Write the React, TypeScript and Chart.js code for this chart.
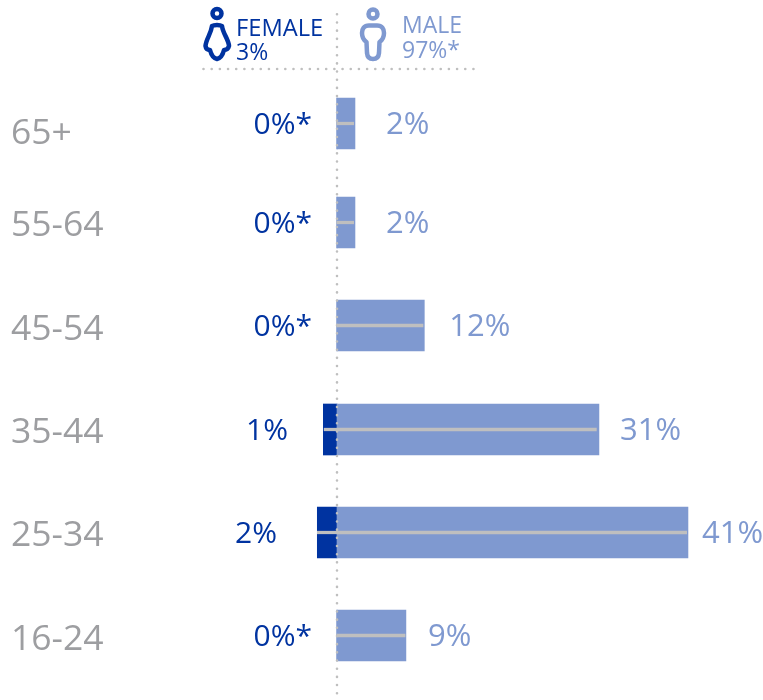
import React, { useEffect, useRef } from "react";
import { Chart, registerables } from "chart.js";

Chart.register(...registerables);

const ageGroups = ["65+", "55-64", "45-54", "35-44", "25-34", "16-24"];
const rowPosition = [0.0388, 1, 2, 3.0097, 4.0097, 5.0097];
const ageTickPosition = [0.142, 1.029, 2.039, 3.039, 4.039, 5.049];
const maleShare = [2.1, 2.1, 10.2, 30.6, 41, 8.05];
const femaleShare = [0, 0, 0, -1.6, -2.3, 0];
const maleMarker = [1.95, 1.95, 10.05, 30.3, 40.85, 7.95];
const femaleMarker = [0, 0, 0, -1.5, -2.3, 0];
const maleLabels = ["2%", "2%", "12%", "31%", "41%", "9%"];
const femaleLabels = ["0%*", "0%*", "0%*", "1%", "2%", "0%*"];

const pairs = (xs: number[]) => xs.map((x, i) => ({ x, y: rowPosition[i] }));

const DARK = "#0033a0";
const LIGHT = "#7f99d0";
const GREY = "#9d9ea1";
const LINE = "#bfbfbf";
const FAMILY = '"Open Sans", sans-serif';

const maleLabelGap = [31, 31, 25, 21, 14, 22];
const femaleLabelRight = [312, 312, 312, 288, 277, 312];

const dotted = (ctx: CanvasRenderingContext2D, x1: number, y1: number, x2: number, y2: number) => {
  ctx.save();
  ctx.strokeStyle = LINE;
  ctx.lineWidth = 2.6;
  ctx.lineCap = "round";
  ctx.setLineDash([0.01, 8.17]);
  ctx.beginPath();
  ctx.moveTo(x1, y1);
  ctx.lineTo(x2, y2);
  ctx.stroke();
  ctx.restore();
};

const overlay = {
  id: "overlay",
  afterDatasetsDraw(chart: any) {
    const { ctx, scales } = chart;
    const x = scales.x;
    const y = scales.y;
    const zero = x.getPixelForValue(0);

    dotted(ctx, zero, 14.3, zero, 700);
    dotted(ctx, 203.5, 69, 474, 69);

    ctx.save();
    ctx.textBaseline = "middle";
    ageGroups.forEach((_, i) => {
      const cy = y.getPixelForValue(rowPosition[i]) + 1.5;
      ctx.font = `30px ${FAMILY}`;
      ctx.fillStyle = DARK;
      ctx.textAlign = "right";
      ctx.fillText(femaleLabels[i], femaleLabelRight[i], cy);
      ctx.font = `31px ${FAMILY}`;
      ctx.fillStyle = LIGHT;
      ctx.textAlign = "left";
      ctx.fillText(maleLabels[i], x.getPixelForValue(maleShare[i]) + maleLabelGap[i], cy);
    });

    ctx.textAlign = "left";
    ctx.fillStyle = DARK;
    ctx.font = `23.7px ${FAMILY}`;
    ctx.fillText("FEMALE", 236, 29);
    ctx.font = `23px ${FAMILY}`;
    ctx.fillText("3%", 236, 53);
    ctx.fillStyle = LIGHT;
    ctx.fillText("MALE", 402, 26);
    ctx.fillText("97%*", 402, 51.5);

    ctx.lineJoin = "round";
    ctx.lineCap = "round";
    ctx.lineWidth = 4.5;
    ctx.strokeStyle = DARK;
    ctx.beginPath();
    ctx.arc(217, 13.5, 4.5, 0, Math.PI * 2);
    ctx.stroke();
    ctx.beginPath();
    ctx.moveTo(212, 26);
    ctx.bezierCurveTo(214, 24.5, 220, 24.5, 222, 26);
    ctx.bezierCurveTo(223, 34, 228.5, 39, 229, 46);
    ctx.quadraticCurveTo(228, 50, 224, 50);
    ctx.quadraticCurveTo(222, 58, 217, 59);
    ctx.quadraticCurveTo(212, 58, 210, 50);
    ctx.quadraticCurveTo(206, 50, 205.5, 46);
    ctx.bezierCurveTo(206, 39, 211, 34, 212, 26);
    ctx.stroke();

    ctx.strokeStyle = LIGHT;
    ctx.beginPath();
    ctx.arc(373, 14, 4.5, 0, Math.PI * 2);
    ctx.stroke();
    ctx.beginPath();
    ctx.moveTo(369, 25.5);
    ctx.lineTo(377, 25.5);
    ctx.bezierCurveTo(382, 25.5, 384, 29, 384, 33);
    ctx.quadraticCurveTo(384, 39, 379.5, 42);
    ctx.lineTo(379, 53);
    ctx.quadraticCurveTo(378.5, 59, 373, 59);
    ctx.quadraticCurveTo(367.5, 59, 367, 53);
    ctx.lineTo(366.5, 42);
    ctx.quadraticCurveTo(362, 39, 362, 33);
    ctx.bezierCurveTo(362, 29, 364, 25.5, 369, 25.5);
    ctx.stroke();
    ctx.restore();
  },
};

export default function App() {
  const ref = useRef<HTMLCanvasElement>(null);

  useEffect(() => {
    document.body.style.margin = "0";
    const chart = new Chart(ref.current!, {
      type: "bar",
      data: {
        datasets: [
          { data: pairs(maleMarker), backgroundColor: LINE, barThickness: 2.6, order: 0 },
          { data: pairs(femaleMarker), backgroundColor: LINE, barThickness: 2.6, order: 0 },
          { data: pairs(maleShare), backgroundColor: LIGHT, barThickness: 51, order: 1 },
          { data: pairs(femaleShare), backgroundColor: DARK, barThickness: 51, order: 1 },
        ],
      },
      options: {
        indexAxis: "y",
        responsive: false,
        animation: false,
        events: [],
        layout: { padding: { left: 11, right: 0, top: 68, bottom: 14 } },
        plugins: { legend: { display: false }, tooltip: { enabled: false } },
        datasets: { bar: { grouped: false } },
        scales: {
          x: {
            type: "linear",
            display: false,
            min: (115 - 337) / 8.56,
            max: (763 - 337) / 8.56,
          },
          y: {
            type: "linear",
            reverse: true,
            offset: false,
            min: -0.5,
            max: 5.5,
            afterBuildTicks: (s: any) => {
              s.ticks = ageTickPosition.map((value) => ({ value }));
            },
            afterFit: (s: any) => {
              s.width = 104;
              s.paddingTop = 0;
              s.paddingBottom = 0;
            },
            border: { display: false },
            grid: { display: false, drawTicks: false },
            ticks: {
              color: GREY,
              crossAlign: "far",
              padding: 0,
              autoSkip: false,
              callback: (_v: any, i: number) => ageGroups[i],
              font: { family: FAMILY, size: 35.5 },
            },
          },
        },
      },
      plugins: [overlay],
    } as any);
    return () => chart.destroy();
  }, []);

  return <canvas ref={ref} width={763} height={700} style={{ display: "block" }} />;
}
